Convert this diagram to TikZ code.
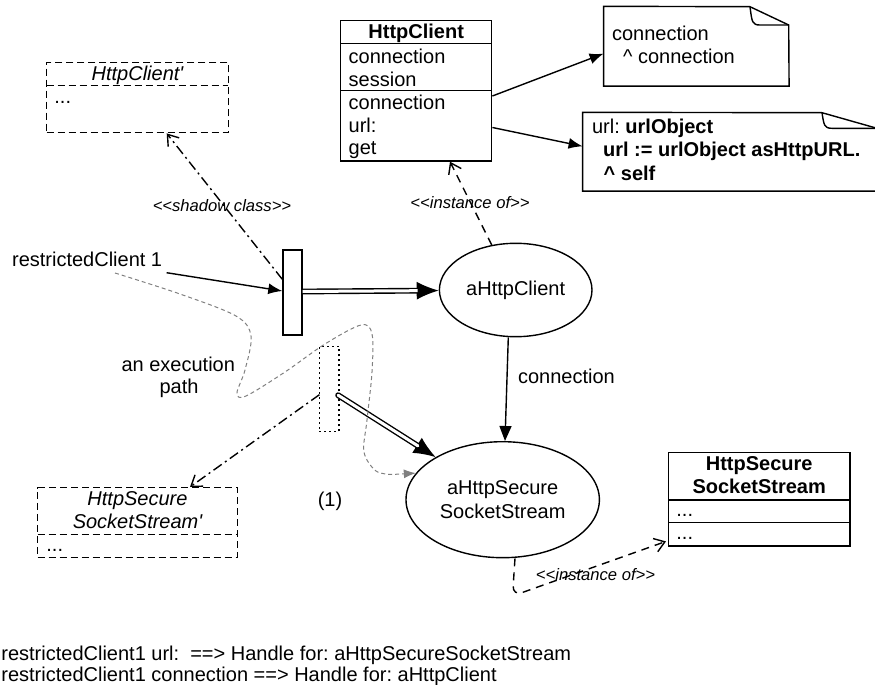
\documentclass[tikz,border=0pt]{standalone}
\usepackage{fontspec}
\setmainfont{Liberation Sans}
\newfontfamily\lib{Liberation Sans}
\usetikzlibrary{arrows.meta,shapes.geometric,fit,calc}
\begin{document}
\frenchspacing
\begin{tikzpicture}[x=0.5pt,y=-0.5pt,
  txtbase/.style={inner sep=0pt, font=\lib\fontsize{10}{12}\selectfont},
  t/.style={txtbase, anchor=base west},
  tc/.style={txtbase, anchor=base},
  tb/.style={tc, font=\lib\fontsize{10}{12}\selectfont\bfseries},
  ti/.style={tc, font=\lib\fontsize{10}{12}\selectfont\itshape},
  lbl/.style={inner sep=0pt, anchor=base, font=\lib\fontsize{8.3}{10}\selectfont\itshape},
  lw/.style={line width=0.7pt},
  box/.style={draw, lw, inner sep=0pt},
  dbox/.style={draw, lw, dash pattern=on 3.5pt off 2pt, inner sep=0pt},
  dotbox/.style={draw, line width=0.6pt, dash pattern=on 1pt off 1.5pt, inner sep=0pt},
  obj/.style={draw, lw, ellipse, inner sep=0pt, font=\lib\fontsize{10}{11.7}\selectfont, align=center},
  arr/.style={lw, -{Latex[length=7pt,width=5.5pt]}},
  bigarr/.style={lw, -{Latex[length=11pt,width=9pt]}},
  dbl/.style={lw, double, double distance=1.5pt},
  inst/.style={lw, dash pattern=on 4pt off 3pt, -{Straight Barb[length=5pt,width=7pt]}},
  shadowln/.style={lw, dash pattern=on 5pt off 2pt on 1pt off 2pt, -{Straight Barb[length=5pt,width=7pt]}},
  exec/.style={line width=0.5pt, black!50, dash pattern=on 2pt off 1.5pt, -{Latex[length=6pt,width=4.5pt]}},
]
\useasboundingbox (0,0) rectangle (875,685);
\clip (0,0) rectangle (875,685);

% ---------- HttpClient class ----------
\node[box, fit={(340.7,20.7) (491.7,161)}] (hc) {};
\draw[lw] (340.7,43.7) -- (491.7,43.7);
\draw[lw] (340.7,90.7) -- (491.7,90.7);
\node[tb] at (416.2,38.3) {HttpClient};
\node[t] at (348.3,63.3) {connection};
\node[t] at (348.3,86) {session};
\node[t] at (348.3,110) {connection};
\node[t] at (348.3,132.7) {url:};
\node[t] at (348.3,155) {get};

% ---------- note 1 ----------
\node[inner sep=0pt, fit={(604,6.7) (788.7,85.7)}] (n1) {};
\draw[lw] (n1.north west) -- (750,6.7) -- (788.7,25) -- (n1.south east) -- (n1.south west) -- cycle;
\draw[lw] (750,6.7) .. controls (752,22) and (752,25) .. (760,25) -- (788.7,25);
\node[t] at (611.7,40) {connection};
\node[t] at (622.7,63.3) {\textasciicircum{} connection};

% ---------- note 2 ----------
\node[inner sep=0pt, fit={(583,112.7) (877,190.7)}] (n2) {};
\draw[lw] (n2.north west) -- (822,112.7) -- (877,128.3) -- (n2.south east) -- (n2.south west) -- cycle;
\draw[lw] (822,112.7) .. controls (824,125) and (824,128.3) .. (832,128.3) -- (877,128.3);
\node[t] at (591.7,133.3) {url: \textbf{urlObject}};
\node[t, font=\lib\fontsize{10}{12}\selectfont\bfseries] at (602.7,156.7) {url := urlObject asHttpURL.};
\node[t, font=\lib\fontsize{10}{12}\selectfont\bfseries] at (603.3,180) {\textasciicircum{} self};

\draw[arr] ($(hc.north east)+(0,76)$) -- ($(n1.north west)+(0,47.3)$);
\draw[arr] ($(hc.north east)+(0,107.5)$) -- ($(n2.north west)+(0,34)$);

% ---------- HttpClient' shadow class ----------
\node[dbox, fit={(46.7,62.3) (228.3,132.7)}] (hcp) {};
\draw[lw, dash pattern=on 3.5pt off 2pt] (46.7,85.7) -- (228.3,85.7);
\node[ti] at (137.5,80) {HttpClient'};
\node[t] at (54,103.3) {...};

% ---------- wrappers ----------
\node[box, fit={(283,250) (302,335)}] (w1) {};
\node[dotbox, fit={(319.3,346.7) (339,431.7)}] (w2) {};

% ---------- objects ----------
\node[obj, minimum width=76.3pt, minimum height=46.7pt] (hcl) at (515.7,290) {aHttpClient};
\node[obj, minimum width=96.7pt, minimum height=58pt] (ss) at (502.7,499.7) {aHttpSecure\\SocketStream};

% ---------- HttpSecureSocketStream' shadow class ----------
\node[dbox, fit={(37.7,487.7) (237.3,557.3)}] (ssp) {};
\draw[lw, dash pattern=on 3.5pt off 2pt] (37.7,534.7) -- (237.3,534.7);
\node[ti] at (137.5,505) {HttpSecure};
\node[ti] at (137.5,528.3) {SocketStream'};
\node[t] at (46,551.7) {...};

% ---------- HttpSecureSocketStream class ----------
\node[box, fit={(668.3,452.7) (850,546)}] (ssc) {};
\draw[lw] (668.3,500) -- (850,500);
\draw[lw] (668.3,522.7) -- (850,522.7);
\node[tb] at (759.2,470) {HttpSecure};
\node[tb] at (759.2,493.3) {SocketStream};
\node[t] at (676,516) {...};
\node[t] at (676,539.3) {...};

% ---------- texts ----------
\node[t] (rc) at (11.7,266.7) {restrictedClient 1};
\node[tc] (ex1) at (178.3,371.7) {an execution};
\node[tc] (ex2) at (179,393.3) {path};
\node[tc] (one) at (330,506.7) {(1)};
\node[t] (bt1) at (1,660) {restrictedClient1 url:\ \ ==> Handle for: aHttpSecureSocketStream};
\node[t] (bt2) at (1,681) {restrictedClient1 connection ==> Handle for: aHttpClient};

% ---------- connectors ----------
\draw[arr] ($(rc.base east)+(4,6)$) -- ($(w1.west)+(0,-1.5)$);

\draw[bigarr] ($(w1.east)+(0,-1)$) -- (hcl);
\draw[dbl, shorten >=10.5pt] ($(w1.east)+(0,-1)$) -- (hcl);

\draw[bigarr] ($(w2.east)+(-1.5,6)$) -- (ss);
\draw[dbl, line cap=round, shorten >=10.5pt] ($(w2.east)+(-1.5,6)$) -- (ss);

\draw[lw, -{Triangle[length=7.5pt,width=6pt]}] ($(hcl.south)+(-7.4,0)$) -- ($(ss.north)+(2.3,0)$);
\node[t] (cl) at (517.7,383.3) {connection};

\draw[inst] (hcl.118) -- ($(hc.south west)+(110,0)$);
\node[lbl] at (470,208.3) {<<instance of>>};

\draw[inst, rounded corners=5pt] ($(ss.south)+(12.3,0)$) -- (512.5,596) -- ($(ssc.south west)+(-1.6,-5.3)$);
\node[lbl] at (595.5,580) {<<instance of>>};

\draw[shadowln] ($(w1.north west)+(0,30)$) -- ($(hcp.south)+(29.2,0)$);
\node[lbl] at (222,211.5) {<<shadow class>>};

\draw[shadowln] ($(w2.west)+(0.7,5.5)$) -- ($(ssp.north)+(52.5,0)$);

\coordinate (ep0) at (115,273);
\draw[exec] plot[smooth, tension=0.55] coordinates {(ep0) (180,294) (236,316) (251,336) (245,370) (237,393) (246,396) (285,372) (325,344) (361,325) (372,334) (372,372) (367,420) (364,452) (376,471) (392,474.5)} -- (ss.163);
\end{tikzpicture}
\end{document}
